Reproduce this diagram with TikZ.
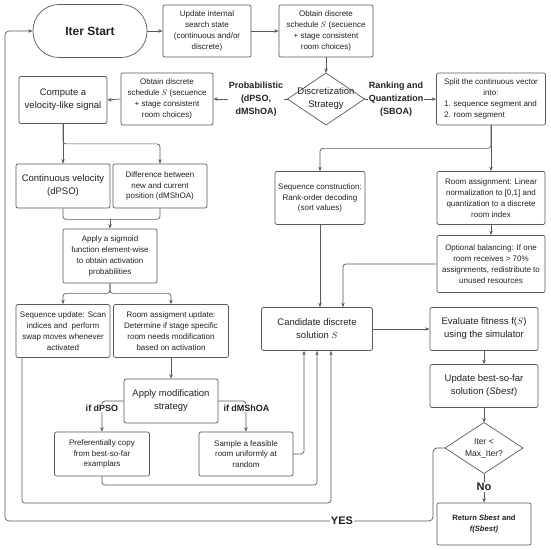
\documentclass[tikz,border=0pt]{standalone}
\usepackage{fontspec}
\setmainfont{Liberation Sans}
\usetikzlibrary{arrows.meta,calc}
\definecolor{lc}{HTML}{5A5A5A}
\definecolor{tc}{HTML}{222222}
\newcommand\ftsmall{\fontsize{8}{10.8}\selectfont}
\newcommand\ftmed{\fontsize{9.5}{13}\selectfont}
\newcommand\ftlab{\fontsize{9}{13}\selectfont\bfseries}
\begin{document}
\begin{tikzpicture}[x=1pt,y=-1pt,
  box/.style={draw=lc, line width=0.7pt, rounded corners=2pt, fill=white, align=center, text=tc, inner sep=1pt, font=\ftsmall},
  medbox/.style={box, font=\ftmed},
  ghost/.style={inner sep=0pt, outer sep=0pt},
  arr/.style={draw=lc, line width=0.7pt, -{Stealth[length=4.5pt,width=3.5pt]}},
  ln/.style={draw=lc, line width=0.7pt},
  lab/.style={fill=white, inner sep=1pt, align=center, text=tc, font=\ftlab}]
\useasboundingbox (0,0) rectangle (550,550);
\fill[white] (0,0) rectangle (550,550);

% top row
\node[box, minimum width=114, minimum height=53, rounded corners=26pt, font=\fontsize{12}{14}\selectfont\bfseries] (start) at (90,31) {Iter Start};
\node[box, minimum width=88, minimum height=52] (upd) at (207,31) {Update internal\\search state\\(continuous and/or\\discrete)};
\node[box, minimum width=94, minimum height=52] (obt1) at (326,31) {Obtain discrete\\schedule $S$ (secuence\\+ stage consistent\\room choices)};

% discretization diamond
\node[ghost, minimum width=77, minimum height=52] (dis) at (326,99) {};
\draw[ln, fill=white] (dis.north) -- (dis.east) -- (dis.south) -- (dis.west) -- cycle;
\node[font=\ftmed, align=center, text=tc, inner sep=0pt] (distext) at (326,99) {Discretization\\Strategy};

\node[box, minimum width=92, minimum height=52] (obt2) at (167,99) {Obtain discrete\\schedule $S$ (secuence\\+ stage consistent\\room choices)};
\node[medbox, minimum width=88, minimum height=47] (comp) at (63,100) {Compute a\\velocity-like signal};
\node[box, minimum width=109, minimum height=52] (split) at (491,99) {\begin{tabular}{@{}l@{}}\multicolumn{1}{@{}c@{}}{Split the continuous vector}\\\multicolumn{1}{@{}c@{}}{into:}\\1. sequence segment and\\2. room segment\end{tabular}};

% right column
\node[box, minimum width=90, minimum height=53] (seq) at (320,198) {Sequence construction:\\Rank-order decoding\\(sort values)};
\node[box, minimum width=108, minimum height=53] (room) at (491,198) {Room assignment: Linear\\normalization to [0,1] and\\quantization to a discrete\\room index};
\node[box, minimum width=108, minimum height=57] (bal) at (491,264) {Optional balancing: If one\\room receives > 70\%\\assignments, redistribute to\\unused resources};
\node[medbox, minimum width=111, minimum height=43] (cand) at (317,329) {Candidate discrete\\solution $S$};
\node[medbox, minimum width=108, minimum height=43] (eval) at (484,329) {Evaluate fitness f($S$)\\using the simulator};
\node[medbox, minimum width=108, minimum height=43] (best) at (484,386) {Update best-so-far\\solution (\textit{Sbest})};
\node[ghost, minimum width=78, minimum height=51] (iter) at (484,448) {};
\draw[ln, fill=white] (iter.north) -- (iter.east) -- (iter.south) -- (iter.west) -- cycle;
\node[font=\fontsize{8.5}{12}\selectfont, align=center, text=tc, inner sep=0pt] (itertext) at (484,448) {Iter <\\Max\_Iter?};
\node[box, minimum width=94, minimum height=42, font=\fontsize{7.6}{11}\selectfont\bfseries] (ret) at (484,524) {Return \textit{Sbest} and\\\textit{f(Sbest)}};

% left column
\node[medbox, minimum width=94, minimum height=44] (cont) at (63,186) {Continuous velocity\\(dPSO)};
\node[box, minimum width=94, minimum height=44] (diff) at (160,186) {Difference between\\new and current\\position (dMShOA)};
\node[box, minimum width=94, minimum height=54] (sig) at (110,256) {Apply a sigmoid\\function element-wise\\to obtain activation\\probabilities};
\node[box, minimum width=94, minimum height=53] (squ) at (63,331) {Sequence update: Scan\\indices and \ perform\\swap moves whenever\\activated};
\node[box, minimum width=115, minimum height=53] (rau) at (171,331) {Room assigment update:\\Determine if stage specific\\room needs modification\\based on activation};
\node[medbox, minimum width=94, minimum height=44] (app) at (171,401) {Apply modification\\strategy};
\node[box, minimum width=95, minimum height=44] (pref) at (102,454) {Preferentially copy\\from best-so-far\\examplars};
\node[box, minimum width=94, minimum height=44] (samp) at (246,454) {Sample a feasible\\room uniformly at\\random};

\coordinate (yb) at (5,521);
\coordinate (c2) at (317,485);
\coordinate (c3) at (331,503);

% connectors
\draw[arr] (start.east) -- (upd.west);
\draw[arr] (upd.east) -- (obt1.west);
\draw[arr] (obt1.south) -- (dis.north);
\draw[arr] (dis.west) -- (obt2.east);
\draw[arr] (obt2.west) -- (comp.east);
\draw[arr] (dis.east) -- (split.west);
\draw[arr] (split.south) -- (room.north);
\draw[arr, rounded corners=3pt] (split.south) -- ++(0,23) -| (seq.north);
\draw[arr] (room.south) -- (bal.north);
\draw[arr, rounded corners=3pt] (bal.west) -| ([xshift=26]cand.north);
\draw[arr] (seq.south) -- (seq.south |- cand.north);
\draw[arr] (cand.east) -- (eval.west);
\draw[arr] (eval.south) -- (best.north);
\draw[arr] (best.south) -- (iter.north);
\draw[arr] (iter.south) -- (ret.north);
\draw[arr, rounded corners=4pt] (iter.west) -- ++(-12,0) |- (yb) |- (start.west);

\draw[arr] (comp.south) -- (cont.north);
\draw[arr, rounded corners=3pt] (comp.south) -- ++(0,20) -| (diff.north);
\draw[ln, rounded corners=3pt] (cont.south) -- ++(0,11) -| (diff.south);
\draw[arr] (sig.north) ++(0,-10) -- (sig.north);
\draw[arr, rounded corners=3pt] (sig.south) -- ++(0,10) -| (squ.north);
\draw[arr, rounded corners=3pt] (sig.south) -- ++(0,10) -| (rau.north);
\draw[arr] (rau.south) -- (app.north);
\draw[arr, rounded corners=3pt] (app.west) -| (pref.north);
\draw[arr, rounded corners=3pt] (app.east) -| (samp.north);
\draw[arr, rounded corners=3pt] (samp.east) -| ([xshift=-13]cand.south);
\draw[arr, rounded corners=3pt] (pref.south) |- (c2) -- (cand.south);
\draw[arr, rounded corners=3pt] ([xshift=-41]squ.south) |- (c3) -- ([xshift=14]cand.south);

% labels
\node[lab] (lprob) at (256,99) {Probabilistic\\(dPSO,\\dMShOA)};
\node[lab] (lrank) at (396,99) {Ranking and\\Quantization\\(SBOA)};
\node[lab] (ldpso) at (102,408) {if dPSO};
\node[lab] (ldmsh) at (246.5,408) {if dMShOA};
\node[lab, font=\fontsize{11}{13}\selectfont\bfseries] (lno) at (484,487) {No};
\node[lab, font=\fontsize{11}{13}\selectfont\bfseries] (lyes) at (342,521) {YES};
\end{tikzpicture}
\end{document}
